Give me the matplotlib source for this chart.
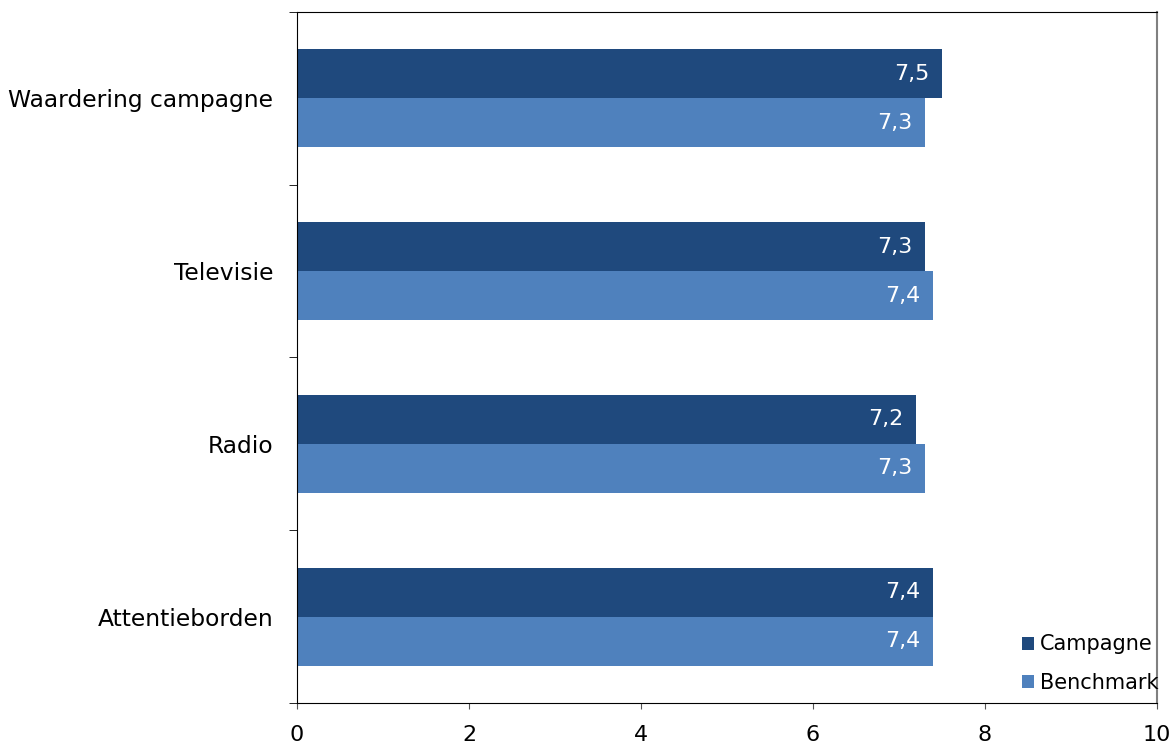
import numpy as np
import matplotlib.pyplot as plt

categories = ['Waardering campagne', 'Televisie', 'Radio', 'Attentieborden']
campagne = [7.5, 7.3, 7.2, 7.4]
benchmark = [7.3, 7.4, 7.3, 7.4]
labels_campagne = ['7,5', '7,3', '7,2', '7,4']
labels_benchmark = ['7,3', '7,4', '7,3', '7,4']

dark = '#1F497D'
light = '#4F81BD'

plt.rcParams['font.family'] = ['DejaVu Sans']

fig = plt.figure(figsize=(11.74, 7.45), dpi=100)
ax = fig.add_axes([0.253, 0.0564, 0.7325, 0.9275])

n = len(categories)
y = np.arange(n)[::-1].astype(float)
h = 0.284

b1 = ax.barh(y + h / 2, campagne, height=h, color=dark, label='Campagne')
b2 = ax.barh(y - h / 2, benchmark, height=h, color=light, label='Benchmark')

for bars, labs in ((b1, labels_campagne), (b2, labels_benchmark)):
    for bar, lab in zip(bars, labs):
        ax.text(bar.get_width() - 0.15, bar.get_y() + bar.get_height() / 2, lab,
                color='white', ha='right', va='center', fontsize=16)

ax.set_xlim(0, 10)
ax.set_ylim(-0.5, n - 0.5)
ax.set_xticks(np.arange(0, 11, 2))
ax.tick_params(axis='x', labelsize=16, length=4, pad=12, direction='out', color='#555555')

ax.set_yticks(y)
ax.set_yticklabels(categories, fontsize=16.8)
ax.tick_params(axis='y', which='major', length=0, pad=17)
ax.set_yticks(np.arange(-0.5, n, 1.0), minor=True)
ax.tick_params(axis='y', which='minor', length=6, direction='out')

for s in ['left', 'bottom', 'top']:
    ax.spines[s].set_color('black')
ax.spines['right'].set_color('#808080')
ax.spines['right'].set_linewidth(1.5)

ax.legend(loc='lower right', bbox_to_anchor=(1.024, -0.013), frameon=False,
          fontsize=15, handlelength=0.6, handleheight=0.6, handletextpad=0.3,
          labelspacing=0.9)

fig.savefig('out.png', dpi=100)
